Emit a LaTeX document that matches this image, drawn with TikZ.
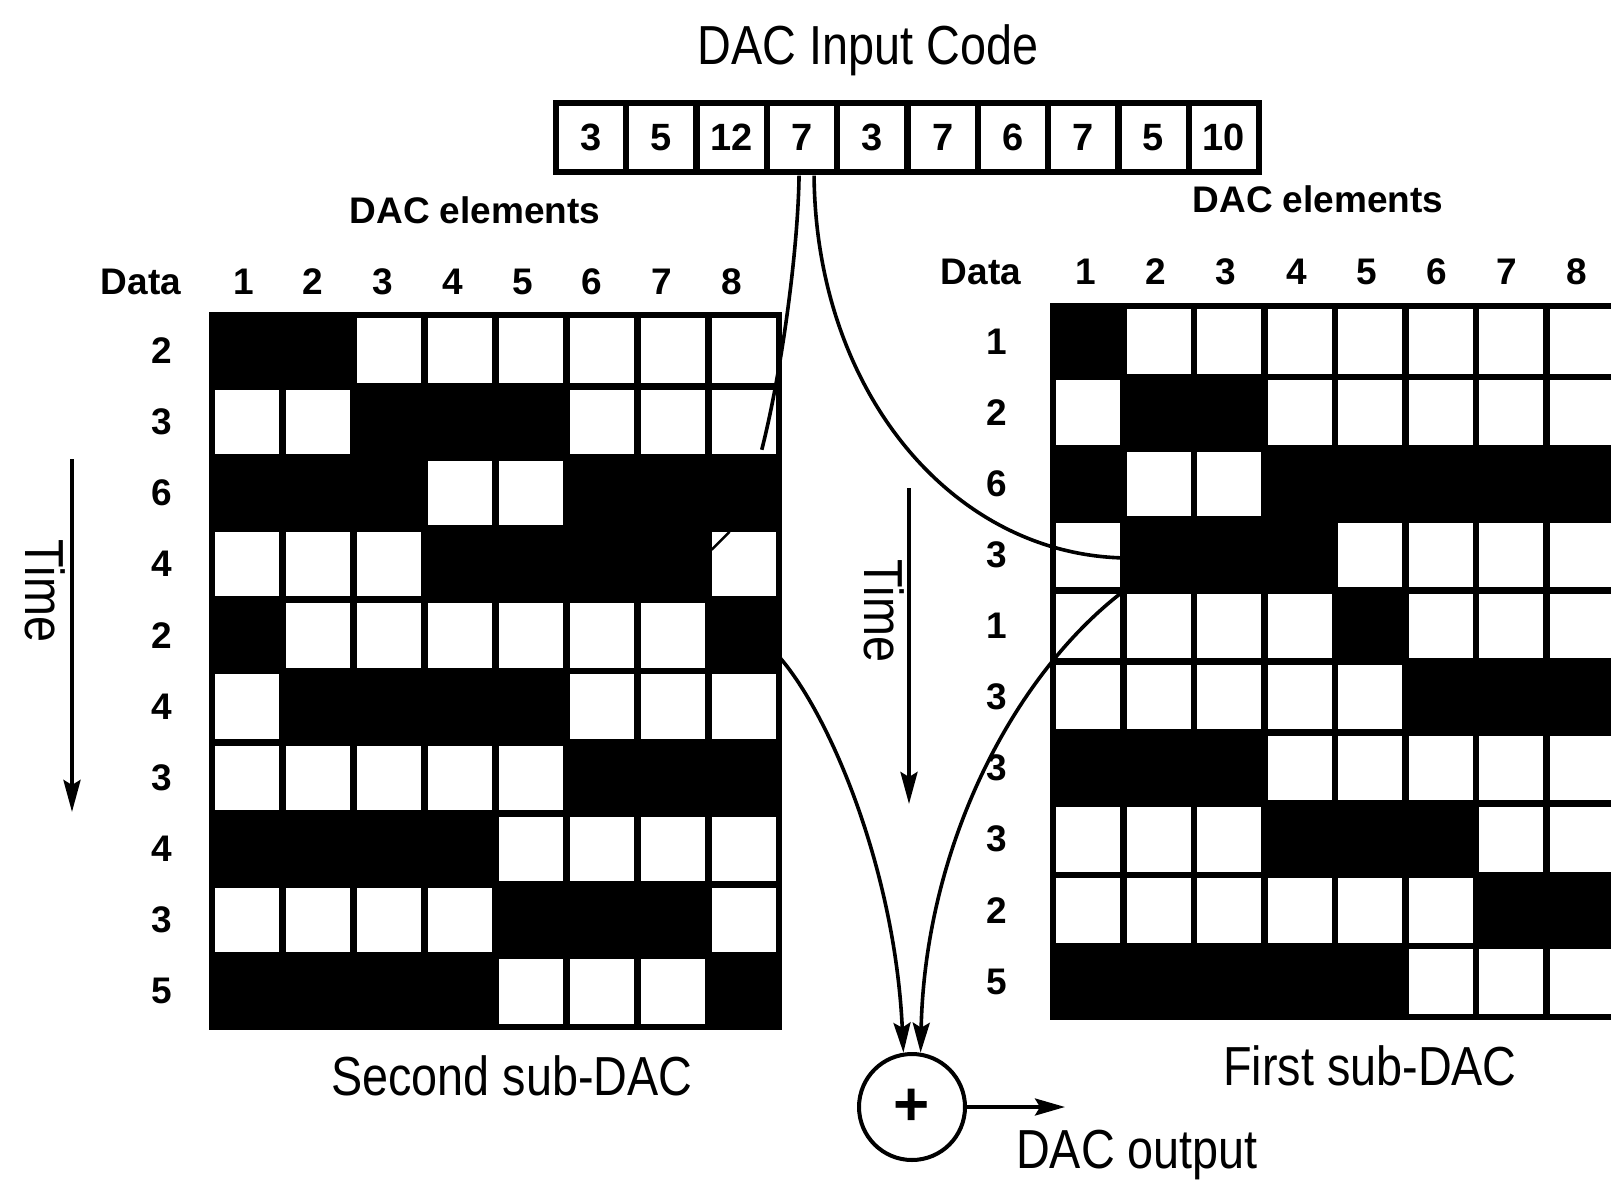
\documentclass[tikz,border=0pt]{standalone}
\usepackage{fontspec}
\setmainfont{Liberation Sans}
\newfontfamily\narrowfont[FakeStretch=0.85]{Liberation Sans}
\usetikzlibrary{arrows.meta,positioning,calc}
\tikzset{
  biglbl/.style={font=\narrowfont\fontsize{55}{60}\selectfont,inner sep=0pt},
  lbl/.style={font=\bfseries\fontsize{37}{40}\selectfont,inner sep=0pt},
  gridbg/.style={fill=black,draw=none,inner sep=0pt},
  cellw/.style={fill=white,draw=none,inner sep=0pt,
                minimum width=64pt,minimum height=64.5pt},
  codecell/.style={fill=white,draw=none,inner sep=0pt,
                   minimum width=64pt,minimum height=62pt,
                   font=\bfseries\fontsize{38}{40}\selectfont},
  sumnode/.style={circle,draw=black,line width=4pt,minimum size=106pt,
                  inner sep=0pt,font=\bfseries\fontsize{62}{62}\selectfont},
  wire/.style={line width=3.6pt},
  wirearr/.style={-{Stealth[length=30pt,width=17pt,inset=5pt]},line width=3.6pt},
  timearr/.style={-{Stealth[length=32pt,width=17pt,inset=5pt]},line width=4pt}
}

\begin{document}
\begin{tikzpicture}[x=1pt,y=-1pt]
    \useasboundingbox (0,0) rectangle (1611,1180);
    \fill[white] (0,0) rectangle (1611,1180);
    \clip (0,0) rectangle (1611,1180);

    % input code row
    \node[biglbl,anchor=base] (title) at (868,65) {DAC Input Code};
    \node[gridbg,minimum width=709pt,minimum height=75pt] (code) at (907.5,137.5) {};
    \foreach \v [count=\i] in {3,5,12,7,3,7,6,7,5,10}
      \node[codecell] (in\i) at ({556+70.3*(\i-0.5)},137.5) {\v};

    % second sub-DAC (left)
    \node[lbl,anchor=base] (lel) at (475,223) {DAC elements};
    \node[lbl,anchor=base] (ldata) at (141,294) {Data};
    \foreach \c in {1,...,8}
      \node[lbl,anchor=base] (lc\c) at ({243.5+69.7*(\c-1)},294) {\c};
    \node[gridbg,minimum width=573pt,minimum height=718pt] (lgrid) at (495.6,671) {};
    \foreach \bits [count=\r] in {{1,1,0,0,0,0,0,0},{0,0,1,1,1,0,0,0},
        {1,1,1,0,0,1,1,1},{0,0,0,1,1,1,1,0},{1,0,0,0,0,0,0,1},
        {0,1,1,1,1,0,0,0},{0,0,0,0,0,1,1,1},{1,1,1,1,0,0,0,0},
        {0,0,0,0,1,1,1,0},{1,1,1,1,0,0,0,1}}
      \foreach \b [count=\c] in \bits {
        \ifnum\b=0
          \node[cellw] (L\r-\c) at ({212+70.9*(\c-0.5)},{315+71.2*(\r-0.5)}) {};
        \fi
      };
    \foreach \d [count=\r] in {2,3,6,4,2,4,3,4,3,5}
      \node[lbl] (ld\r) at (162,{315+71.2*(\r-0.5)}) {\d};
    \draw[line width=2.5pt] ($(L4-8.north west)+(0,18)$) -- ++(18,-18);
    \node[biglbl,anchor=base] (second) at (512,1095) {Second sub-DAC};

    % first sub-DAC (right)
    \node[lbl,anchor=base] (rel) at (1318,212) {DAC elements};
    \node[lbl,anchor=base] (rdata) at (981,284) {Data};
    \foreach \c in {1,...,8}
      \node[lbl,anchor=base] (rc\c) at ({1086+70.1*(\c-1)},284) {\c};
    \node[gridbg,minimum width=570pt,minimum height=717pt] (rgrid) at (1335,661.5) {};
    \foreach \bits [count=\r] in {{1,0,0,0,0,0,0,0},{0,1,1,0,0,0,0,0},
        {1,0,0,1,1,1,1,1},{0,1,1,1,0,0,0,0},{0,0,0,0,1,0,0,0},
        {0,0,0,0,0,1,1,1},{1,1,1,0,0,0,0,0},{0,0,0,1,1,1,0,0},
        {0,0,0,0,0,0,1,1},{1,1,1,1,1,0,0,0}}
      \foreach \b [count=\c] in \bits {
        \ifnum\b=0
          \node[cellw] (R\r-\c) at ({1053+70.5*(\c-0.5)},{306+71.1*(\r-0.5)}) {};
        \fi
      };
    \foreach \d [count=\r] in {1,2,6,3,1,3,3,3,2,5}
      \node[lbl] (rd\r) at (997,{306+71.1*(\r-0.5)}) {\d};
    \node[biglbl,anchor=base] (first) at (1370,1085) {First sub-DAC};

    % time arrows
    \coordinate (lt0) at (72,459);
    \coordinate (lt1) at (72,812);
    \draw[timearr] (lt0) -- (lt1);
    \node[biglbl,rotate=-90] (ltime) at (45,591) {Time};
    \coordinate (rt0) at (909,488);
    \coordinate (rt1) at (909,804);
    \draw[timearr] (rt0) -- (rt1);
    \node[biglbl,rotate=-90] (rtime) at (884,611) {Time};

    % adder
    \node[sumnode] (adder) at (912,1107) {+};
    \coordinate (out) at (1065,1107);
    \draw[wirearr] (adder.east) -- (out);
    \node[biglbl,anchor=base] (dacout) at (1137,1168) {DAC output};

    % connectors
    \coordinate (s1) at ($(in4.south)+(-3,7)$);
    \coordinate (s2) at ($(in4.south)+(12,7)$);
    \coordinate (e1) at ($(L2-8.center)+(18,28)$);
    \coordinate (e2) at ($(R4-1.east)+(0,3)$);
    \coordinate (o1) at ($(lgrid.east)+(-3,-14)$);
    \coordinate (o2) at (R5-1.north east);
    \draw[wire] (s1) .. controls (798,250) and (782,370) .. (e1);
    \draw[wire] (s2) .. controls (816,390) and (950,552) .. (e2);
    \draw[wirearr] (o1) .. controls (830,715) and (895,870) .. (adder.99);
    \draw[wirearr] (o2) .. controls (1010,680) and (925,850) .. (adder.81);
\end{tikzpicture}
\end{document}
